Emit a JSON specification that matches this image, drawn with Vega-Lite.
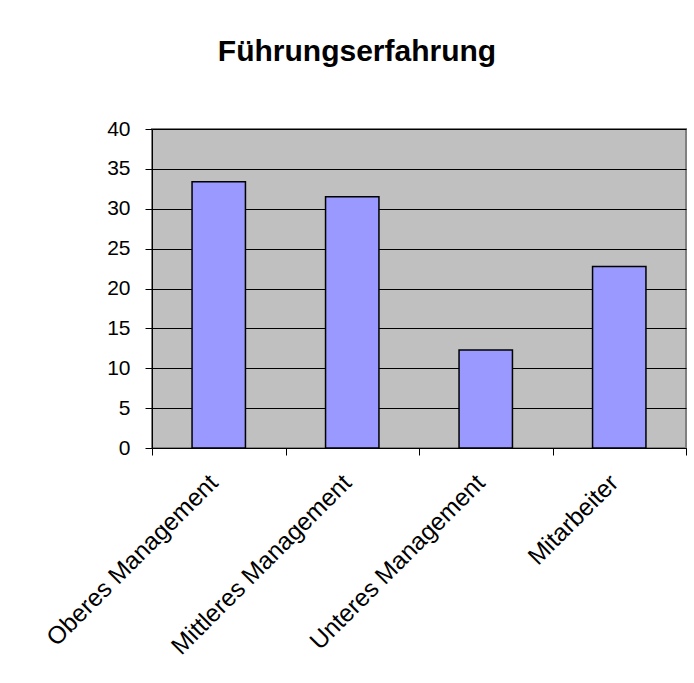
{
  "$schema": "https://vega.github.io/schema/vega-lite/v6.json",
  "autosize": {"type": "none"},
  "width": 534,
  "height": 319,
  "padding": {"left": 152, "top": 129, "right": 8, "bottom": 235},
  "background": "white",
  "title": {
    "text": "Führungserfahrung",
    "font": "Liberation Sans",
    "fontSize": 30,
    "fontWeight": "bold",
    "color": "black",
    "anchor": "middle",
    "dx": -62,
    "baseline": "alphabetic",
    "offset": 27
  },
  "data": {
    "values": [
      {"Gruppe": "Oberes Management", "Wert": 33.4},
      {"Gruppe": "Mittleres Management", "Wert": 31.5},
      {"Gruppe": "Unteres Management", "Wert": 12.3},
      {"Gruppe": "Mitarbeiter", "Wert": 22.75}
    ]
  },
  "mark": {"type": "bar", "fill": "#9999FF", "stroke": "black", "strokeWidth": 1.5, "width": {"band": 0.4}},
  "encoding": {
    "x": {
      "field": "Gruppe",
      "type": "nominal",
      "sort": null,
      "scale": {"paddingInner": 0, "paddingOuter": 0},
      "axis": {
        "title": null,
        "labelAngle": -45,
        "labelAlign": "right",
        "labelBaseline": "alphabetic",
        "labelFont": "Liberation Sans",
        "labelFontSize": 24.5,
        "labelColor": "black",
        "labelPadding": 29,
        "labelLimit": 0,
        "labelOverlap": false,
        "tickBand": "extent",
        "tickColor": "black",
        "tickSize": 7,
        "domainColor": "black",
        "domainWidth": 1,
        "grid": false
      }
    },
    "y": {
      "field": "Wert",
      "type": "quantitative",
      "scale": {"domain": [0, 40]},
      "axis": {
        "title": null,
        "values": [0, 5, 10, 15, 20, 25, 30, 35, 40],
        "labelFont": "Liberation Sans",
        "labelFontSize": 21,
        "labelColor": "black",
        "labelPadding": 15,
        "tickColor": "black",
        "tickSize": 7,
        "domainColor": "black",
        "grid": true,
        "gridColor": "black",
        "gridOpacity": 1,
        "gridWidth": 1
      }
    }
  },
  "config": {
    "view": {"fill": "#C0C0C0", "stroke": "#808080", "strokeWidth": 2}
  }
}
